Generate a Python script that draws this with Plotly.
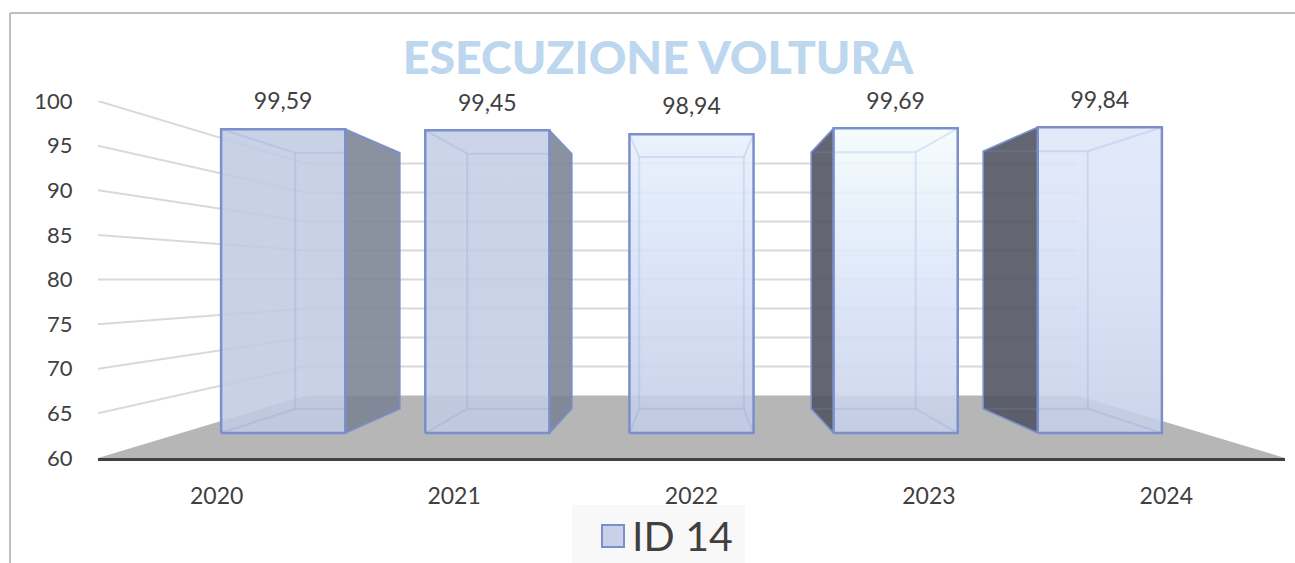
import plotly.graph_objects as go

# ---- data ----
categories = ["2020", "2021", "2022", "2023", "2024"]
values = [99.59, 99.45, 98.94, 99.69, 99.84]
labels = ["99,59", "99,45", "98,94", "99,69", "99,84"]
y_ticks = [60, 65, 70, 75, 80, 85, 90, 95, 100]
series_name = "ID 14"
chart_title = "ESECUZIONE VOLTURA"

# ---- perspective of the 3D box (vanishing point: centre category, value 80) ----
W, H = 1295, 563
BASE = 60
VX, VY = 2.0, 80.0
S_FRONT, S_BACK, S_WALL = 0.86, 0.7245, 0.65
HALF = 0.304
LABEL_GAP = 2.85


def proj(cx, v, s):
    return VX + s * (cx - VX), VY + s * (v - VY)


def poly(points):
    xs, ys = zip(*points)
    return list(xs) + [xs[0]], list(ys) + [ys[0]]


# ---- styles ----
TEXT = "#404040"
GRID = "#d9d9d9"
FLOOR = "#b6b6b6"
EDGE = "#7b8fcb"
SWATCH = "#c8d1e8"
INNER = "rgba(125,145,215,0.20)"
SIDE_RIGHT = "rgba(122,130,146,0.88)"
SIDE_LEFT = "rgba(82,85,97,0.90)"
FACE = [  # bottom, middle, top of each front face
    ((193, 203, 227), (193, 203, 227), (193, 203, 227)),
    ((193, 203, 227), (194, 204, 228), (196, 206, 230)),
    ((193, 204, 229), (212, 223, 246), (231, 240, 252)),
    ((198, 208, 233), (219, 229, 249), (243, 252, 252)),
    ((196, 206, 231), (213, 222, 245), (222, 231, 249)),
]


def face_scale(stops):
    return [[k / 2, "rgba(%d,%d,%d,0.88)" % c] for k, c in enumerate(stops)]


fig = go.Figure()
common = dict(hoverinfo="skip", showlegend=False)

# floor
fx, fy = poly([proj(-0.5, BASE, 1), proj(4.5, BASE, 1), proj(4.5, BASE, S_WALL), proj(-0.5, BASE, S_WALL)])
fig.add_trace(go.Scatter(x=fx, y=fy, mode="lines", fill="toself", fillcolor=FLOOR,
                         line=dict(width=0), **common))

# wall grid lines
for t in y_ticks[1:]:
    pts = [proj(-0.5, t, 1), proj(-0.5, t, S_WALL), proj(4.5, t, S_WALL)]
    fig.add_trace(go.Scatter(x=[p[0] for p in pts], y=[p[1] for p in pts], mode="lines",
                             line=dict(color=GRID, width=2), **common))

# bars
for i, v in enumerate(values):
    l, r = i - HALF, i + HALF
    if i != VX:
        e = r if i < VX else l
        pts = [proj(e, BASE, S_FRONT), proj(e, v, S_FRONT), proj(e, v, S_BACK), proj(e, BASE, S_BACK)]
        sx, sy = poly(pts)
        fig.add_trace(go.Scatter(x=sx, y=sy, mode="lines", fill="toself",
                                 fillcolor=SIDE_RIGHT if i < VX else SIDE_LEFT,
                                 line=dict(color=EDGE, width=1.5), **common))
    pts = [proj(l, BASE, S_FRONT), proj(r, BASE, S_FRONT), proj(r, v, S_FRONT), proj(l, v, S_FRONT)]
    sx, sy = poly(pts)
    fig.add_trace(go.Scatter(x=sx, y=sy, mode="lines", fill="toself",
                             fillgradient=dict(type="vertical", colorscale=face_scale(FACE[i])),
                             line=dict(color=EDGE, width=2.5), **common))
    bx, by = poly([proj(l, BASE, S_BACK), proj(r, BASE, S_BACK), proj(r, v, S_BACK), proj(l, v, S_BACK)])
    fig.add_trace(go.Scatter(x=bx, y=by, mode="lines", line=dict(color=INNER, width=2), **common))
    for e, h in ((l, v), (r, v), (l, BASE), (r, BASE)):
        a, b = proj(e, h, S_FRONT), proj(e, h, S_BACK)
        fig.add_trace(go.Scatter(x=[a[0], b[0]], y=[a[1], b[1]], mode="lines",
                                 line=dict(color=INNER, width=2), **common))

# value labels
label_pts = [proj(i, v, S_FRONT) for i, v in enumerate(values)]
fig.add_trace(go.Scatter(x=[p[0] for p in label_pts], y=[p[1] + LABEL_GAP for p in label_pts],
                         mode="text", text=labels, textposition="middle center",
                         textfont=dict(family="Lato", size=23, color=TEXT), cliponaxis=False, **common))

# legend entry (Plotly caps legend markers at 16 px; the larger swatch sits under it as a shape)
fig.add_trace(go.Scatter(x=[None], y=[None], mode="markers", name=series_name, hoverinfo="skip",
                         marker=dict(symbol="square", size=16, color=SWATCH, line=dict(width=0))))

fig.update_layout(
    width=W, height=H, margin=dict(l=0, r=0, t=0, b=0, autoexpand=False),
    paper_bgcolor="white", plot_bgcolor="rgba(0,0,0,0)",
    font=dict(family="Lato", color=TEXT),
    title=dict(text=chart_title, x=658 / W, xanchor="center", y=1 - 58 / H, yanchor="middle",
               font=dict(family="Lato", size=46.5, weight=900, color="#bdd7ee")),
    xaxis=dict(domain=[98 / W, 1285 / W], range=[-0.5, 4.5], tickmode="array",
               tickvals=list(range(len(categories))), ticktext=categories,
               tickfont=dict(family="Lato", size=23, color=TEXT),
               showgrid=False, zeroline=False, showline=True, linecolor="#404040", linewidth=3,
               ticks="outside", ticklen=15, tickcolor="rgba(0,0,0,0)", tickwidth=0),
    yaxis=dict(domain=[(H - 458) / H, (H - 101) / H], range=[BASE, 100], tickmode="array",
               tickvals=y_ticks, tickfont=dict(family="Lato", size=22, color=TEXT),
               showgrid=False, zeroline=False, showline=False,
               ticks="outside", ticklen=20, tickcolor="rgba(0,0,0,0)", tickwidth=0),
    legend=dict(x=592 / W, xanchor="left", y=(H - 535) / H, yanchor="middle", bgcolor="rgba(0,0,0,0)",
                font=dict(family="Lato", size=41, color=TEXT), itemsizing="trace", itemwidth=30),
    shapes=[
        dict(type="line", xref="paper", yref="paper", x0=10 / W, x1=1, y0=1 - 13 / H, y1=1 - 13 / H,
             line=dict(color="#bfbfbf", width=2), layer="below"),
        dict(type="line", xref="paper", yref="paper", x0=10 / W, x1=10 / W, y0=0, y1=1 - 13 / H,
             line=dict(color="#bfbfbf", width=2), layer="below"),
        dict(type="rect", xref="paper", yref="paper", x0=572 / W, x1=745 / W, y0=0, y1=(H - 505) / H,
             fillcolor="#f8f8f8", line=dict(width=0), layer="below"),
        dict(type="rect", xref="paper", yref="paper", x0=602 / W, x1=624 / W,
             y0=(H - 547) / H, y1=(H - 525) / H,
             fillcolor=SWATCH, line=dict(color=EDGE, width=2), layer="above"),
    ],
)

fig.write_html("out.html", config=dict(displayModeBar=False),
               post_script="document.body.style.margin='0';")
